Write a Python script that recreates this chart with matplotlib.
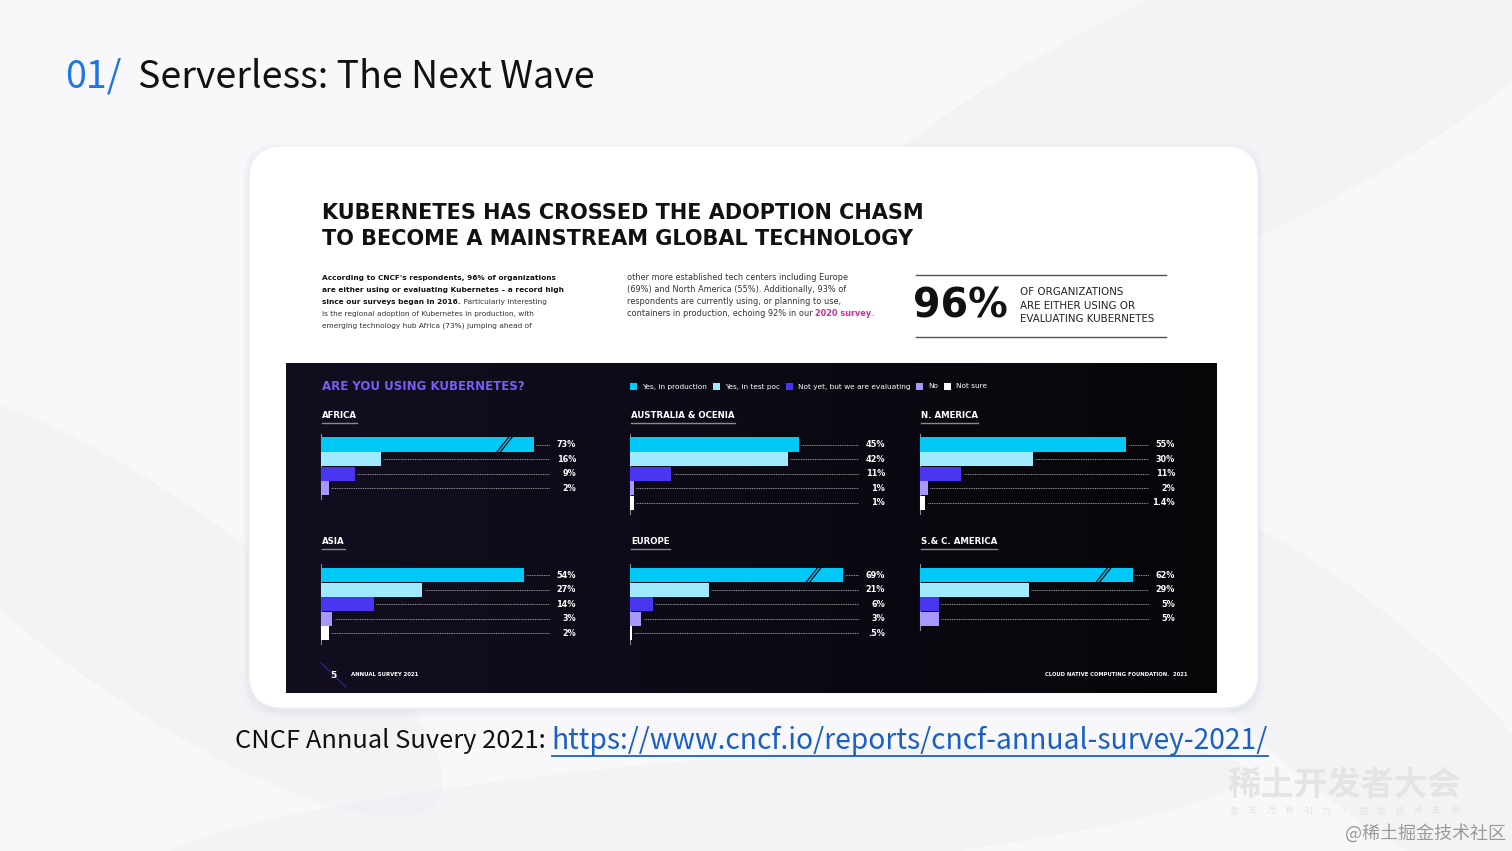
import numpy as np
import matplotlib
matplotlib.use('Agg')
import matplotlib.pyplot as plt
from matplotlib.patches import FancyBboxPatch, Rectangle, Ellipse

W, H = 1512, 851

# data
regions = ['AFRICA', 'AUSTRALIA & OCENIA', 'N. AMERICA', 'ASIA', 'EUROPE', 'S.& C. AMERICA']
series = ['Yes, in production', 'Yes, in test poc', 'Not yet, but we are evaluating', 'No', 'Not sure']
production = [73, 45, 55, 54, 69, 62]
test_poc = [16, 42, 30, 27, 21, 29]
evaluating = [9, 11, 11, 14, 6, 5]
no = [2, 1, 2, 3, 3, 5]
not_sure = [None, 1, 1.4, 2, 0.5, None]
colors = ['#00c8f7', '#9feaff', '#4a36f0', '#a898fa', '#ffffff']

fig = plt.figure(figsize=(15.12, 8.51), dpi=100)
fig.patch.set_facecolor('#f8f8fa')
bg = fig.add_axes([0, 0, 1, 1])
bg.set_xlim(0, W)
bg.set_ylim(H, 0)
bg.axis('off')
r = fig.canvas.get_renderer()

# faint swooshes in the slide background
for (cx, cy, w, h, a) in [(1200, 120, 900, 260, -25), (150, 600, 700, 200, 35),
                          (1350, 700, 600, 180, 40), (700, 820, 1100, 120, -5)]:
    bg.add_patch(Ellipse((cx, cy), w, h, angle=a, color='#efeff3', alpha=0.5, lw=0, zorder=0))

# card with soft shadow
for i, al in enumerate([0.04, 0.04, 0.05]):
    p = 6 - 2 * i
    bg.add_patch(FancyBboxPatch((249 - p, 146 - p + 3), 1009 + 2 * p, 562 + 2 * p,
                                boxstyle='round,pad=0,rounding_size=36',
                                fc='#9aa6c8', ec='none', alpha=al, zorder=1))
bg.add_patch(FancyBboxPatch((249, 146), 1009, 562, boxstyle='round,pad=0,rounding_size=34',
                            fc='white', ec='#eef0f5', lw=0.8, zorder=2))

# dark panel with slight purple tint on the left
grad = np.linspace(0, 1, 256)
cols = np.zeros((2, 256, 3))
c0 = np.array([0x12, 0x0e, 0x20]) / 255
c1 = np.array([0x06, 0x06, 0x09]) / 255
for i in range(3):
    cols[:, :, i] = c0[i] + (c1[i] - c0[i]) * grad
bg.imshow(cols, extent=[286, 1217, 693, 363], aspect='auto', zorder=3, interpolation='bicubic')
bg.set_xlim(0, W)
bg.set_ylim(H, 0)

# slide title
bg.text(65, 77, '01/', fontsize=27, color='#1f74e6', family='Noto Sans CJK SC', va='center', zorder=5)
bg.text(138, 77, 'Serverless: The Next Wave', fontsize=27, color='#111111',
        family='Noto Sans CJK SC', va='center', zorder=5)

# page heading
bg.text(322, 213, 'KUBERNETES HAS CROSSED THE ADOPTION CHASM', fontsize=15,
        fontweight='bold', color='#111111', va='center', zorder=5)
bg.text(322, 239, 'TO BECOME A MAINSTREAM GLOBAL TECHNOLOGY', fontsize=15,
        fontweight='bold', color='#111111', va='center', zorder=5)


def rich(x, y, parts, size, family='DejaVu Sans'):
    for s, wt, c in parts:
        t = bg.text(x, y, s, fontsize=size, fontweight=wt, color=c, va='center',
                    family=family, zorder=5)
        x += t.get_window_extent(renderer=r).width
    return x


left_lines = [
    [("According to CNCF's respondents, 96% of organizations", 'bold', '#111')],
    [("are either using or evaluating Kubernetes \u2013 a record high", 'bold', '#111')],
    [("since our surveys began in 2016.", 'bold', '#111'), (" Particularly interesting", 'normal', '#333')],
    [("is the regional adoption of Kubernetes in production, with", 'normal', '#333')],
    [("emerging technology hub Africa (73%) jumping ahead of", 'normal', '#333')],
]
right_lines = [
    [("other more established tech centers including Europe", 'normal', '#333')],
    [("(69%) and North America (55%). Additionally, 93% of", 'normal', '#333')],
    [("respondents are currently using, or planning to use,", 'normal', '#333')],
    [("containers in production, echoing 92% in our ", 'normal', '#333'),
     ("2020 survey", 'bold', '#cc2f98'), (".", 'normal', '#333')],
]
for i, parts in enumerate(left_lines):
    rich(322, 278 + 12 * i, parts, 5.35)
for i, parts in enumerate(right_lines):
    rich(627, 278 + 12 * i, parts, 5.9)

# 96% callout
bg.plot([916, 1166], [275, 275], color='#555', lw=1, zorder=5)
bg.plot([916, 1166], [337, 337], color='#555', lw=1, zorder=5)
bg.text(913, 306, '96%', fontsize=28.5, fontweight='bold', color='#111', va='center', zorder=5)
for i, s in enumerate(['OF ORGANIZATIONS', 'ARE EITHER USING OR', 'EVALUATING KUBERNETES']):
    bg.text(1020, 292 + 13.7 * i, s, fontsize=7.4, color='#222', va='center', zorder=5)

# panel heading and legend
bg.text(322, 386, 'ARE YOU USING KUBERNETES?', fontsize=8.5, fontweight='bold',
        color='#7a5cf6', va='center', zorder=5)
lx = 630
for name, c in zip(series, colors):
    bg.add_patch(Rectangle((lx, 382.5), 7, 7, fc=c, ec='none', zorder=5))
    t = bg.text(lx + 12, 386.5, name, fontsize=5.35, color='white', va='center', zorder=5)
    lx = lx + 12 + t.get_window_extent(renderer=r).width + 6

# footer
bg.plot([321, 346], [663, 687], color='#1d2c78', lw=1, zorder=4)
bg.text(333, 675, '5', fontsize=6.5, fontweight='bold', color='white', ha='center', va='center', zorder=5)
bg.text(351, 675, 'ANNUAL SURVEY 2021', fontsize=3.9, fontweight='bold', color='white', va='center', zorder=5)
bg.text(1188, 675, 'CLOUD NATIVE COMPUTING FOUNDATION.  2021', fontsize=3.8, fontweight='bold',
        color='white', ha='right', va='center', zorder=5)

# bar panels
ax_left = [321, 630, 920, 321, 630, 920]
row0_y = [444.5, 444.5, 444.5, 575, 575, 575]
title_y = [415, 415, 415, 541, 541, 541]
sp = 14.6          # px per row
ppu = 3.75         # px per percent
ax_w = 229
cap = 56.8

for k, reg in enumerate(regions):
    vals = [production[k], test_poc[k], evaluating[k], no[k], not_sure[k]]
    vals = [v for v in vals if v is not None]
    n = len(vals)
    h_px = (n - 1 + 1.5) * sp
    top = row0_y[k] - 0.75 * sp
    ax = fig.add_axes([ax_left[k] / W, 1 - (top + h_px) / H, ax_w / W, h_px / H])
    ax.set_facecolor('none')
    ax.set_xlim(0, ax_w / ppu)
    ax.set_ylim(n - 1 + 0.75, -0.75)
    for s in ['top', 'right', 'bottom']:
        ax.spines[s].set_visible(False)
    ax.spines['left'].set_color('#8a8a8a')
    ax.spines['left'].set_linewidth(0.8)
    ax.set_xticks([])
    ax.set_yticks([])
    ys = np.arange(n)
    shown = [min(v, cap) for v in vals]
    ax.barh(ys, shown, height=0.97, color=colors[:n], edgecolor='none', zorder=3)
    xmax = ax_w / ppu
    for y, v, sv in zip(ys, vals, shown):
        ax.plot([sv + 0.6, xmax], [y, y], color='#9a9a9a', lw=0.7, ls=(0, (1, 0.8)), zorder=2)
        lab = f"{v:g}".lstrip('0') + '%'
        ax.text(xmax + 26 / ppu, y, lab, fontsize=5.9, fontweight='bold', color='white',
                ha='right', va='center', clip_on=False)
        if v > cap:
            for off in (0, 0.9):
                ax.plot([46.8 + off, 50.2 + off], [y + 0.55, y - 0.55], color='#0b0a12',
                        lw=0.9, zorder=4, solid_capstyle='butt')
    t = bg.text(ax_left[k] + 1, title_y[k], reg, fontsize=6.2, fontweight='bold',
                color='white', va='center', zorder=5)
    tw = t.get_window_extent(renderer=r).width
    bg.plot([ax_left[k] + 1, ax_left[k] + 1 + tw], [title_y[k] + 7.5] * 2, color='#8a8a8a',
            lw=1, zorder=5)

# caption and link
x_end = rich(235, 741, [('CNCF Annual Suvery 2021:', 'normal', '#111')], 18.3,
             family='Noto Sans CJK SC')
x_link = x_end + 6
t = bg.text(x_link, 741, 'https://www.cncf.io/reports/cncf-annual-survey-2021/', fontsize=20.3,
            family='Noto Sans CJK SC', color='#1a5fc4', va='center', zorder=5)
lw_px = t.get_window_extent(renderer=r).width
bg.plot([x_link, x_link + lw_px], [756, 756], color='#1a5fc4', lw=1.3, zorder=5)

# watermark
bg.text(1344, 785, '稀土开发者大会', fontsize=24, fontweight='bold', color='#e4e4e7',
        family='Noto Sans CJK SC', ha='center', va='center', zorder=5)
sub = list('激发万有引力/掘金技术未来')
for ch, xx in zip(sub, np.linspace(1234, 1455, len(sub))):
    bg.text(xx, 811, ch, fontsize=6.5, color='#e3e3e6', family='Noto Sans CJK SC',
            ha='center', va='center', zorder=5)
bg.text(1506, 833, '@稀土掘金技术社区', fontsize=13, color='#9a9a9a',
        family='Noto Sans CJK SC', ha='right', va='center', zorder=5)

fig.savefig('out.png', dpi=100, facecolor=fig.get_facecolor())
